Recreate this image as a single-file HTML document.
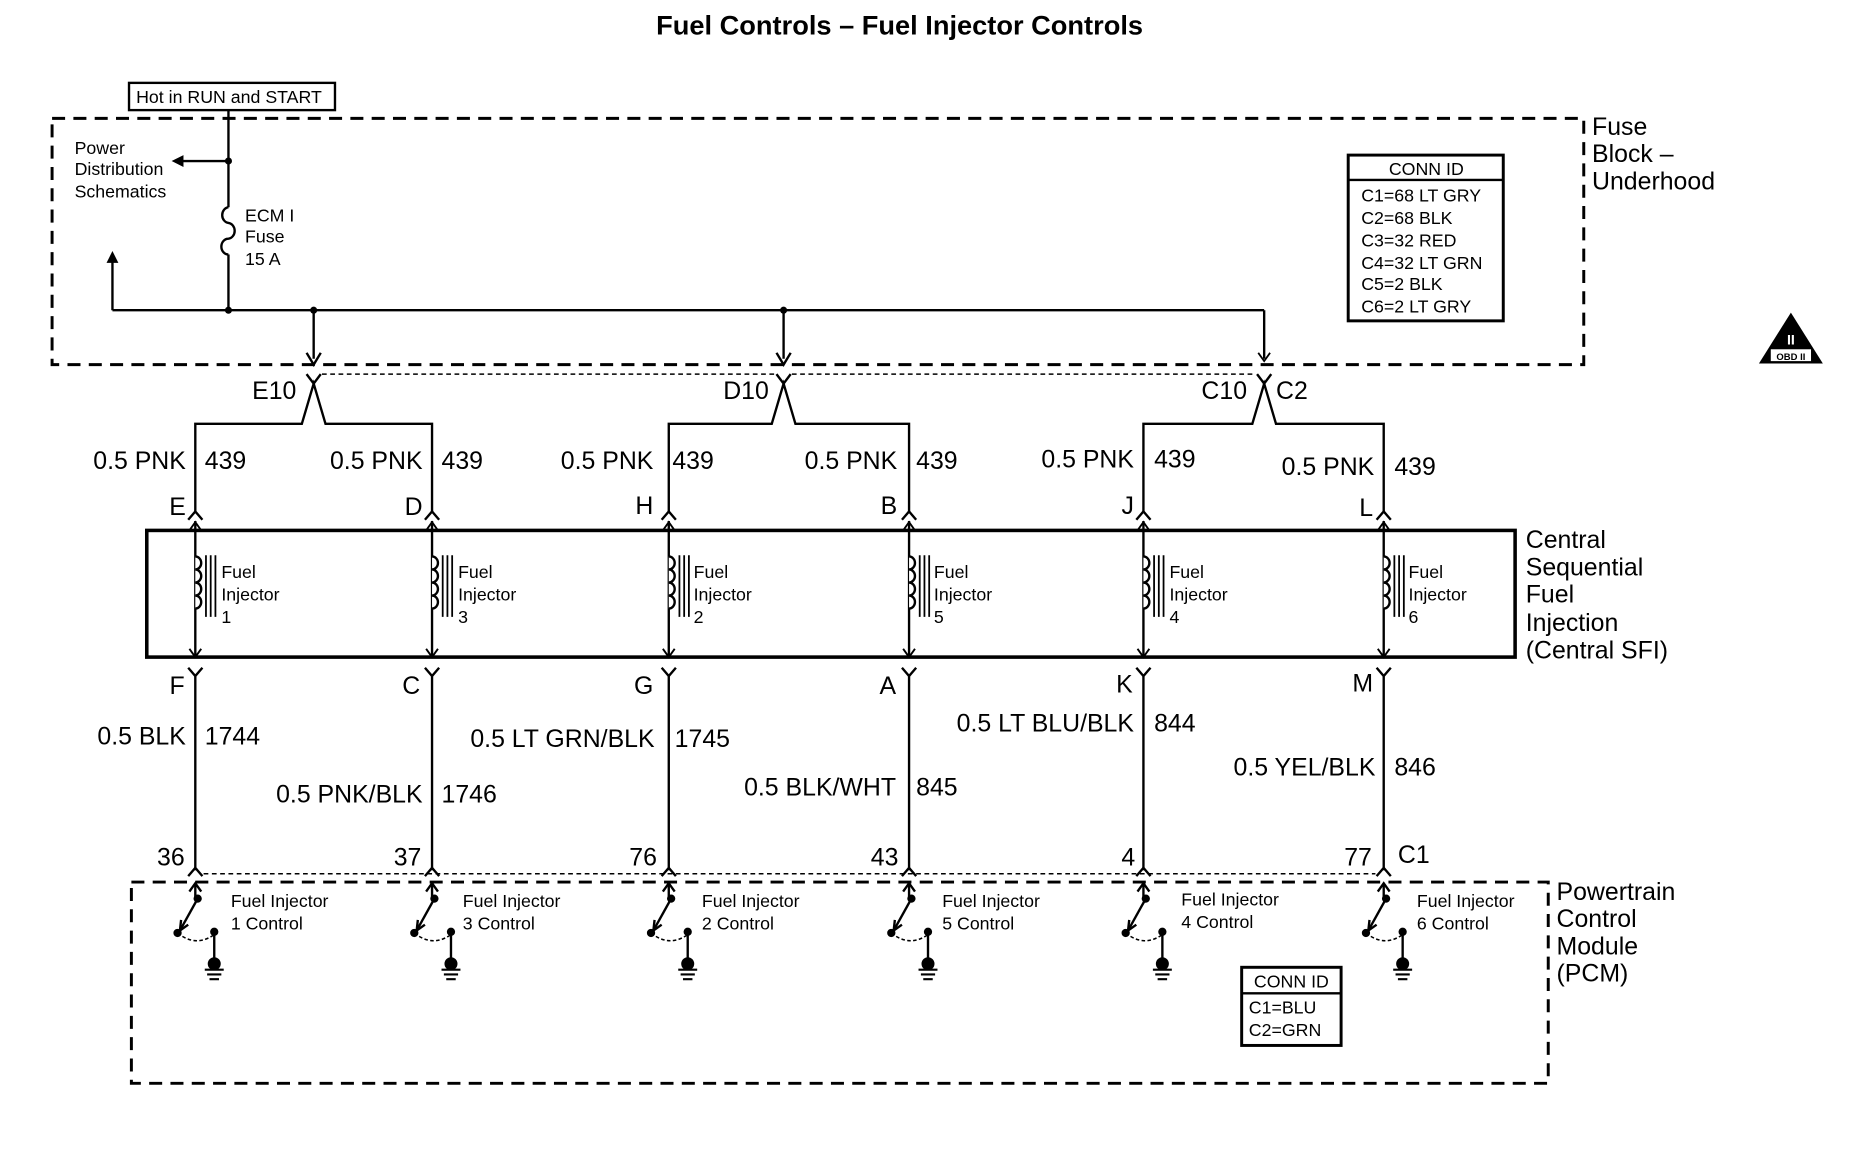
<!DOCTYPE html>
<html><head><meta charset="utf-8"><style>
html,body{margin:0;padding:0;background:#fff}
svg{display:block}
text{font-family:"Liberation Sans",Arial,sans-serif;fill:#000}
.t{font-size:15px}
.m{font-size:21px}
.b{font-size:23px;font-weight:bold}
</style></head><body>
<svg width="1856" height="1152" viewBox="0 0 1568 973" preserveAspectRatio="none" xmlns="http://www.w3.org/2000/svg">
<defs>
<g id="inj" fill="none" stroke="#000">
  <path d="M0 440V556" stroke-width="2"/>
  <path d="M-5 448 L0 441 L5 448 M-5 548 L0 555 L5 548" stroke-width="1.6"/>
  <path d="M0 470 a5 5.5 0 0 1 0 11 a5 5.5 0 0 1 0 11 a5 5.5 0 0 1 0 11 a5 5.5 0 0 1 0 11" stroke-width="2" fill="#fff"/>
  <path d="M9 469V521 M13 469V521 M17 469V521" stroke-width="1.5"/>
  <path d="M-6 439 L0 432 L6 439" stroke-width="2"/>
  <path d="M-6 564 L0 571 L6 564 M0 571V735" stroke-width="2"/>
  <path d="M-6 740 L0 733 L6 740" stroke-width="2"/>
</g>
<g id="sw" stroke="#000" fill="none">
  <path d="M0 746V759" stroke-width="2"/>
  <path d="M-5 753 L0 746 L5 753" stroke-width="2"/>
  <path d="M2 759 L-13 786" stroke-width="2"/>
  <path d="M-13 786 L-12 777 M-13 786 L-6 781" stroke-width="2"/>
  <circle cx="2" cy="759" r="3" fill="#000"/>
  <circle cx="-15" cy="788" r="3" fill="#000"/>
  <path d="M-15 788 Q0 800 15 790" stroke-width="1.3" stroke-dasharray="3,2"/>
  <circle cx="16" cy="787" r="3" fill="#000"/>
  <path d="M16 787V812" stroke-width="2"/>
  <circle cx="16" cy="814" r="5" fill="#000"/>
  <path d="M8 819H24 M10 823H22 M12 827H20" stroke-width="1.8"/>
</g>
</defs>

<text x="760" y="29" class="b" text-anchor="middle">Fuel Controls – Fuel Injector Controls</text>

<!-- Fuse block -->
<rect x="109" y="70" width="174" height="23" fill="none" stroke="#000" stroke-width="2"/>
<text x="115" y="87" class="t">Hot in RUN and START</text>
<rect x="44" y="100" width="1294" height="208" fill="none" stroke="#000" stroke-width="2.5" stroke-dasharray="11,7"/>
<text x="63" y="130" class="t">Power</text>
<text x="63" y="148" class="t">Distribution</text>
<text x="63" y="167" class="t">Schematics</text>
<g stroke="#000" stroke-width="2" fill="none">
<path d="M193 93V175 M193 215V262"/>
<path d="M193 175 a6 6.7 0 0 0 0 13.3 a6 6.7 0 0 1 0 13.3 a6 6.7 0 0 0 0 13.4"/>
<path d="M193 136H150"/>
<path d="M95 262H1068 M95 262V220 M265 262V303 M662 262V303 M1068 262V303"/>
</g>
<path d="M145 136 L155 131 L155 141Z" fill="#000"/>
<path d="M95 212 L90 222 L100 222Z" fill="#000"/>
<path d="M259 298 L265 308 L271 298 M656 298 L662 308 L668 298" stroke="#000" stroke-width="2" fill="none"/>
<path d="M1063 298 L1068 305 L1073 298" stroke="#000" stroke-width="1.5" fill="none"/>
<circle cx="193" cy="136" r="3" fill="#000"/>
<circle cx="193" cy="262" r="3" fill="#000"/>
<circle cx="265" cy="262" r="3" fill="#000"/>
<circle cx="662" cy="262" r="3" fill="#000"/>
<text x="207" y="187" class="t">ECM I</text>
<text x="207" y="205" class="t">Fuse</text>
<text x="207" y="224" class="t">15 A</text>
<rect x="1139" y="131" width="131" height="140" fill="none" stroke="#000" stroke-width="2.5"/>
<path d="M1139 152H1270" stroke="#000" stroke-width="2"/>
<text x="1205" y="148" class="t" text-anchor="middle">CONN ID</text>
<text x="1150" y="170" class="t">C1=68 LT GRY</text>
<text x="1150" y="189" class="t">C2=68 BLK</text>
<text x="1150" y="208" class="t">C3=32 RED</text>
<text x="1150" y="227" class="t">C4=32 LT GRN</text>
<text x="1150" y="245" class="t">C5=2 BLK</text>
<text x="1150" y="264" class="t">C6=2 LT GRY</text>
<text x="1345" y="114" class="m">Fuse</text>
<text x="1345" y="137" class="m">Block –</text>
<text x="1345" y="160" class="m">Underhood</text>
<path d="M1513 264 L1540 307 L1486 307Z" fill="#000"/>
<text x="1513" y="291" font-size="12" style="fill:#fff" text-anchor="middle" font-weight="bold">II</text>
<rect x="1496" y="295" width="34" height="10" fill="#fff"/>
<text x="1513" y="304" font-size="8" text-anchor="middle" font-weight="bold">OBD II</text>

<!-- connectors top -->
<path d="M272 316H655 M669 316H1061" stroke="#000" stroke-width="1.3" stroke-dasharray="4,3"/>
<g stroke="#000" stroke-width="2" fill="none">
<path d="M259 316 L265 324 L271 316 M165 432V358H255L265 324L275 358H365V432"/>
<path d="M656 316 L662 324 L668 316 M565 432V358H652L662 324L672 358H768V432"/>
<path d="M1062 316 L1068 324 L1074 316 M966 432V358H1058L1068 324L1078 358H1169V432"/>
</g>
<text x="213" y="337" class="m">E10</text>
<text x="611" y="337" class="m">D10</text>
<text x="1015" y="337" class="m">C10</text>
<text x="1078" y="337" class="m">C2</text>

<text x="157" y="396" class="m" text-anchor="end">0.5 PNK</text><text x="173" y="396" class="m">439</text>
<text x="357" y="396" class="m" text-anchor="end">0.5 PNK</text><text x="373" y="396" class="m">439</text>
<text x="552" y="396" class="m" text-anchor="end">0.5 PNK</text><text x="568" y="396" class="m">439</text>
<text x="758" y="396" class="m" text-anchor="end">0.5 PNK</text><text x="774" y="396" class="m">439</text>
<text x="958" y="395" class="m" text-anchor="end">0.5 PNK</text><text x="975" y="395" class="m">439</text>
<text x="1161" y="401" class="m" text-anchor="end">0.5 PNK</text><text x="1178" y="401" class="m">439</text>

<text x="157" y="435" class="m" text-anchor="end">E</text>
<text x="357" y="435" class="m" text-anchor="end">D</text>
<text x="552" y="434" class="m" text-anchor="end">H</text>
<text x="758" y="434" class="m" text-anchor="end">B</text>
<text x="958" y="434" class="m" text-anchor="end">J</text>
<text x="1160" y="436" class="m" text-anchor="end">L</text>

<rect x="124" y="448" width="1156" height="107" fill="none" stroke="#000" stroke-width="3"/>
<text x="1289" y="463" class="m">Central</text>
<text x="1289" y="486" class="m">Sequential</text>
<text x="1289" y="509" class="m">Fuel</text>
<text x="1289" y="533" class="m">Injection</text>
<text x="1289" y="556" class="m">(Central SFI)</text>

<use href="#inj" x="165"/><use href="#inj" x="365"/><use href="#inj" x="565"/>
<use href="#inj" x="768"/><use href="#inj" x="966"/><use href="#inj" x="1169"/>

<text x="187" y="488" class="t">Fuel</text><text x="187" y="507" class="t">Injector</text><text x="187" y="526" class="t">1</text>
<text x="387" y="488" class="t">Fuel</text><text x="387" y="507" class="t">Injector</text><text x="387" y="526" class="t">3</text>
<text x="586" y="488" class="t">Fuel</text><text x="586" y="507" class="t">Injector</text><text x="586" y="526" class="t">2</text>
<text x="789" y="488" class="t">Fuel</text><text x="789" y="507" class="t">Injector</text><text x="789" y="526" class="t">5</text>
<text x="988" y="488" class="t">Fuel</text><text x="988" y="507" class="t">Injector</text><text x="988" y="526" class="t">4</text>
<text x="1190" y="488" class="t">Fuel</text><text x="1190" y="507" class="t">Injector</text><text x="1190" y="526" class="t">6</text>

<text x="156" y="586" class="m" text-anchor="end">F</text>
<text x="355" y="586" class="m" text-anchor="end">C</text>
<text x="552" y="586" class="m" text-anchor="end">G</text>
<text x="757" y="586" class="m" text-anchor="end">A</text>
<text x="957" y="585" class="m" text-anchor="end">K</text>
<text x="1160" y="584" class="m" text-anchor="end">M</text>

<text x="157" y="629" class="m" text-anchor="end">0.5 BLK</text><text x="173" y="629" class="m">1744</text>
<text x="357" y="678" class="m" text-anchor="end">0.5 PNK/BLK</text><text x="373" y="678" class="m">1746</text>
<text x="553" y="631" class="m" text-anchor="end">0.5 LT GRN/BLK</text><text x="570" y="631" class="m">1745</text>
<text x="757" y="672" class="m" text-anchor="end">0.5 BLK/WHT</text><text x="774" y="672" class="m">845</text>
<text x="958" y="618" class="m" text-anchor="end">0.5 LT BLU/BLK</text><text x="975" y="618" class="m">844</text>
<text x="1162" y="655" class="m" text-anchor="end">0.5 YEL/BLK</text><text x="1178" y="655" class="m">846</text>

<text x="156" y="731" class="m" text-anchor="end">36</text>
<text x="356" y="731" class="m" text-anchor="end">37</text>
<text x="555" y="731" class="m" text-anchor="end">76</text>
<text x="759" y="731" class="m" text-anchor="end">43</text>
<text x="959" y="731" class="m" text-anchor="end">4</text>
<text x="1159" y="731" class="m" text-anchor="end">77</text>
<text x="1181" y="729" class="m">C1</text>

<path d="M172 738H1162" stroke="#000" stroke-width="1.3" stroke-dasharray="4,3"/>
<rect x="111" y="745" width="1197" height="170" fill="none" stroke="#000" stroke-width="2.5" stroke-dasharray="11,7"/>

<use href="#sw" x="165"/><use href="#sw" x="365"/><use href="#sw" x="565"/>
<use href="#sw" x="768"/><use href="#sw" x="966"/><use href="#sw" x="1169"/>

<text x="195" y="766" class="t">Fuel Injector</text><text x="195" y="785" class="t">1 Control</text>
<text x="391" y="766" class="t">Fuel Injector</text><text x="391" y="785" class="t">3 Control</text>
<text x="593" y="766" class="t">Fuel Injector</text><text x="593" y="785" class="t">2 Control</text>
<text x="796" y="766" class="t">Fuel Injector</text><text x="796" y="785" class="t">5 Control</text>
<text x="998" y="765" class="t">Fuel Injector</text><text x="998" y="784" class="t">4 Control</text>
<text x="1197" y="766" class="t">Fuel Injector</text><text x="1197" y="785" class="t">6 Control</text>

<text x="1315" y="760" class="m">Powertrain</text>
<text x="1315" y="783" class="m">Control</text>
<text x="1315" y="806" class="m">Module</text>
<text x="1315" y="829" class="m">(PCM)</text>

<rect x="1049" y="817" width="84" height="66" fill="none" stroke="#000" stroke-width="2.5"/>
<path d="M1049 839H1133" stroke="#000" stroke-width="2"/>
<text x="1091" y="834" class="t" text-anchor="middle">CONN ID</text>
<text x="1055" y="856" class="t">C1=BLU</text>
<text x="1055" y="875" class="t">C2=GRN</text>
</svg>
</body></html>
